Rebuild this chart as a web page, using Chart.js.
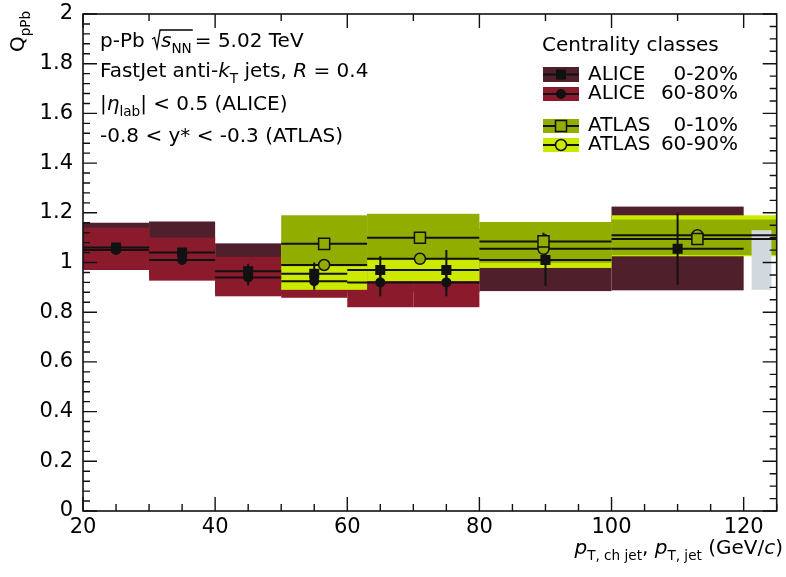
<!DOCTYPE html>
<html>
<head>
<meta charset="utf-8">
<script src="https://cdn.jsdelivr.net/npm/chart.js@4.4.1/dist/chart.umd.min.js"></script>
<style>
  html, body { margin: 0; padding: 0; background: #fff; }
  #wrap { width: 786px; height: 577px; }
</style>
</head>
<body>
<div id="wrap"><canvas id="qpbChart" width="786" height="577"></canvas></div>
<script>
// ALICE, charged jets (bin edges and centres in GeV/c)
const aliceEdges = [20, 30, 40, 50, 60, 70, 80, 100, 120];
const aliceCentres = [25, 35, 45, 55, 65, 75, 90, 110];
const alice020 = [1.06, 1.04, 0.965, 0.955, 0.97, 0.97, 1.01, 1.055];
const alice020Stat = [0.01, 0.015, 0.03, 0.045, 0.055, 0.08, 0.105, 0.145];
const alice020SysLo = [0.97, 0.94, 0.87, 0.87, 0.88, 0.88, 0.885, 0.888];
const alice020SysHi = [1.16, 1.165, 1.077, 1.05, 1.07, 1.07, 1.135, 1.225];
const alice6080 = [1.05, 1.01, 0.94, 0.925, 0.92, 0.92];
const alice6080Stat = [0.01, 0.02, 0.033, 0.035, 0.056, 0.056];
const alice6080SysLo = [0.97, 0.927, 0.864, 0.858, 0.82, 0.82];
const alice6080SysHi = [1.14, 1.10, 1.023, 1.0, 1.02, 1.02];

// ATLAS, full jets
const atlasEdges = [50, 63, 80, 100, 125];
const atlasCentres = [56.5, 71, 89.7, 113];
const atlas010 = [1.075, 1.10, 1.085, 1.095];
const atlas010Stat = [0.01, 0.01, 0.035, 0.015];
const atlas010SysLo = [0.985, 1.01, 0.999, 1.03];
const atlas010SysHi = [1.19, 1.196, 1.163, 1.173];
const atlas6090 = [0.99, 1.015, 1.055, 1.11];
const atlas6090Stat = [0.01, 0.01, 0.02, 0.015];
const atlas6090SysLo = [0.89, 0.925, 0.978, 1.025];
const atlas6090SysHi = [1.09, 1.11, 1.13, 1.19];

// normalisation uncertainty box
const normRange = [121.2, 124.2];
const normLo = 0.89;
const normHi = 1.13;

const xTicks = [20, 40, 60, 80, 100, 120];

const COL = {
  alice020: '#4f1f2c',
  alice6080: '#8c1a2d',
  atlas010: '#90ad00',
  atlas6090: '#cbea00',
  norm: '#d2d9de',
  ink: '#111111'
};
const FONT = '"DejaVu Sans", "Liberation Sans", sans-serif';

function segments(edges, vals) {
  const out = [];
  vals.forEach((v, i) => {
    out.push({ x: edges[i], y: v }, { x: edges[i + 1], y: v }, { x: edges[i + 1], y: null });
  });
  return out;
}

function errorBars(xs, vals, errs) {
  const out = [];
  vals.forEach((v, i) => {
    out.push({ x: xs[i], y: v - errs[i] }, { x: xs[i], y: v + errs[i] }, { x: xs[i], y: null });
  });
  return out;
}

function points(xs, vals) {
  return vals.map((v, i) => ({ x: xs[i], y: v }));
}

const lineStyle = (data) => ({
  type: 'line', data, borderColor: COL.ink, borderWidth: 2, pointRadius: 0,
  spanGaps: false, fill: false, order: 3
});
const barStyle = (data) => ({
  type: 'line', data, borderColor: COL.ink, borderWidth: 2, pointRadius: 0,
  spanGaps: false, fill: false, order: 2
});

// systematic boxes, drawn behind the datasets
const boxPlugin = {
  id: 'sysBoxes',
  beforeDatasetsDraw(chart) {
    const { ctx, chartArea: a, scales: { x, y } } = chart;
    ctx.save();
    ctx.beginPath();
    ctx.rect(a.left, a.top, a.right - a.left, a.bottom - a.top);
    ctx.clip();
    const fill = (edges, lo, hi, color) => {
      ctx.fillStyle = color;
      lo.forEach((l, i) => {
        const x0 = x.getPixelForValue(edges[i]);
        const x1 = x.getPixelForValue(edges[i + 1]);
        const y0 = y.getPixelForValue(hi[i]);
        const y1 = y.getPixelForValue(l);
        ctx.fillRect(x0, y0, x1 - x0, y1 - y0);
      });
    };
    fill(aliceEdges, alice020SysLo, alice020SysHi, COL.alice020);
    fill(aliceEdges, alice6080SysLo, alice6080SysHi, COL.alice6080);
    fill(atlasEdges, atlas6090SysLo, atlas6090SysHi, COL.atlas6090);
    fill(atlasEdges, atlas010SysLo, atlas010SysHi, COL.atlas010);
    fill(normRange, [normLo], [normHi], COL.norm);
    ctx.restore();
  }
};

function richText(ctx, x, y, parts, size) {
  let cx = x;
  parts.forEach(([t, f = '']) => {
    const sub = f.includes('s');
    const fs = sub ? size * 0.68 : size;
    ctx.font = (f.includes('i') ? 'italic ' : '') + fs + 'px ' + FONT;
    ctx.fillText(t, cx, sub ? y + size * 0.32 : y);
    cx += ctx.measureText(t).width;
  });
  return cx;
}

function textWidth(ctx, parts, size) {
  let w = 0;
  parts.forEach(([t, f = '']) => {
    const fs = f.includes('s') ? size * 0.68 : size;
    ctx.font = (f.includes('i') ? 'italic ' : '') + fs + 'px ' + FONT;
    w += ctx.measureText(t).width;
  });
  return w;
}

// frame with inward ticks, labels and legend
const framePlugin = {
  id: 'frameAndText',
  afterDatasetsDraw(chart) {
    const { ctx, chartArea: a, scales: { x, y } } = chart;
    ctx.save();
    ctx.strokeStyle = COL.ink;
    ctx.lineWidth = 1.6;
    ctx.strokeRect(a.left, a.top, a.right - a.left, a.bottom - a.top);
    ctx.lineWidth = 1.4;
    ctx.beginPath();
    // bottom axis: major 20, minor 5
    for (let v = 20; v <= 125; v += 5) {
      const px = x.getPixelForValue(v);
      const len = v % 20 === 0 ? 14 : 7;
      ctx.moveTo(px, a.bottom); ctx.lineTo(px, a.bottom - len);
    }
    // top axis: major 20, minor 10
    for (let v = 20; v <= 125; v += 10) {
      const px = x.getPixelForValue(v);
      const len = v % 20 === 0 ? 14 : 7;
      ctx.moveTo(px, a.top); ctx.lineTo(px, a.top + len);
    }
    // left axis: major 0.2, minor 0.04
    for (let k = 0; k <= 50; k++) {
      const py = y.getPixelForValue(k * 0.04);
      const len = k % 5 === 0 ? 14 : 7;
      ctx.moveTo(a.left, py); ctx.lineTo(a.left + len, py);
    }
    // right axis: major 0.2, minor 0.05
    for (let k = 0; k <= 40; k++) {
      const py = y.getPixelForValue(k * 0.05);
      const len = k % 4 === 0 ? 14 : 7;
      ctx.moveTo(a.right, py); ctx.lineTo(a.right - len, py);
    }
    ctx.stroke();
    ctx.restore();
  },
  afterDraw(chart) {
    const { ctx } = chart;
    ctx.save();
    ctx.fillStyle = '#000';
    ctx.textBaseline = 'alphabetic';
    ctx.textAlign = 'left';
    const fs = 20;

    // annotation block
    const cx = richText(ctx, 100, 47, [['p-Pb ']], fs);
    const rx = cx + 1;
    const sEnd = richText(ctx, rx + 9, 47, [['s', 'i'], ['NN', 's']], fs) + 1;
    ctx.strokeStyle = '#000';
    ctx.lineWidth = 1.3;
    ctx.beginPath();
    ctx.moveTo(rx, 39); ctx.lineTo(rx + 2.5, 37.5); ctx.lineTo(rx + 5, 48);
    ctx.lineTo(rx + 8, 30); ctx.lineTo(sEnd, 30);
    ctx.stroke();
    richText(ctx, sEnd + 2, 47, [['= 5.02 TeV']], fs);
    richText(ctx, 100, 77, [['FastJet anti-'], ['k', 'i'], ['T', 's'], [' jets, '], ['R', 'i'], [' = 0.4']], fs);
    richText(ctx, 100, 110, [['|'], ['\u03b7', 'i'], ['lab', 's'], ['| < 0.5 (ALICE)']], fs);
    richText(ctx, 100, 142, [['-0.8 < y* < -0.3 (ATLAS)']], fs);

    // legend
    richText(ctx, 542, 51, [['Centrality classes']], fs);
    const entries = [
      { name: 'ALICE', cls: '0-20%', color: COL.alice020, top: 67, bottom: 82, marker: 'square', open: false },
      { name: 'ALICE', cls: '60-80%', color: COL.alice6080, top: 87, bottom: 101, marker: 'circle', open: false },
      { name: 'ATLAS', cls: '0-10%', color: COL.atlas010, top: 119, bottom: 133, marker: 'square', open: true },
      { name: 'ATLAS', cls: '60-90%', color: COL.atlas6090, top: 138, bottom: 152, marker: 'circle', open: true }
    ];
    entries.forEach((e) => {
      const mid = (e.top + e.bottom) / 2;
      ctx.fillStyle = e.color;
      ctx.fillRect(543, e.top, 36, e.bottom - e.top);
      ctx.strokeStyle = COL.ink;
      ctx.lineWidth = 2;
      ctx.beginPath(); ctx.moveTo(543, mid); ctx.lineTo(579, mid); ctx.stroke();
      ctx.beginPath();
      if (e.marker === 'square') {
        const h = e.open ? 5.5 : 5;
        ctx.rect(561 - h, mid - h, 2 * h, 2 * h);
      } else {
        ctx.arc(561, mid, e.open ? 5.5 : 5, 0, Math.PI * 2);
      }
      if (e.open) {
        ctx.fillStyle = e.color; ctx.fill();
        ctx.lineWidth = 1.5; ctx.stroke();
      } else {
        ctx.fillStyle = COL.ink; ctx.fill();
      }
      ctx.fillStyle = '#000';
      ctx.font = fs + 'px ' + FONT;
      ctx.textAlign = 'left';
      ctx.fillText(e.name, 588, e.bottom - 2);
      ctx.textAlign = 'right';
      ctx.fillText(e.cls, 738, e.bottom - 2);
      ctx.textAlign = 'left';
    });

    // x-axis title, right aligned to the frame
    const xParts = [['p', 'i'], ['T, ch jet', 's'], [', '], ['p', 'i'], ['T, jet', 's'], [' (GeV/'], ['c', 'i'], [')']];
    const w = textWidth(ctx, xParts, fs);
    richText(ctx, 783 - w, 554, xParts, fs);

    // y-axis title
    ctx.translate(24, 52);
    ctx.rotate(-Math.PI / 2);
    richText(ctx, 0, 0, [['Q'], ['pPb', 's']], fs);
    ctx.restore();
  }
};

const ctx = document.getElementById('qpbChart');

new Chart(ctx, {
  type: 'scatter',
  data: {
    datasets: [
      // markers
      { data: points(atlasCentres, atlas010), pointStyle: 'rect', pointRadius: 7.8, borderColor: COL.ink,
        borderWidth: 1.5, backgroundColor: COL.atlas010, order: 0 },
      { data: points(atlasCentres, atlas6090), pointStyle: 'circle', pointRadius: 5.5, borderColor: COL.ink,
        borderWidth: 1.5, backgroundColor: COL.atlas010, order: 0 },
      { data: points(aliceCentres, alice020), pointStyle: 'rect', pointRadius: 7.1, borderWidth: 0,
        backgroundColor: COL.ink, order: 0 },
      { data: points(aliceCentres, alice6080), pointStyle: 'circle', pointRadius: 5, borderWidth: 0,
        backgroundColor: COL.ink, order: 1 },
      // statistical error bars
      barStyle(errorBars(aliceCentres, alice020, alice020Stat)),
      barStyle(errorBars(aliceCentres, alice6080, alice6080Stat)),
      barStyle(errorBars(atlasCentres, atlas010, atlas010Stat)),
      barStyle(errorBars(atlasCentres, atlas6090, atlas6090Stat)),
      // central values across each bin
      lineStyle(segments(aliceEdges, alice020)),
      lineStyle(segments(aliceEdges, alice6080)),
      lineStyle(segments(atlasEdges, atlas010)),
      lineStyle(segments(atlasEdges, atlas6090))
    ]
  },
  options: {
    responsive: false,
    animation: false,
    devicePixelRatio: 1,
    layout: { padding: { top: 14, right: 4, left: 0, bottom: 0 } },
    plugins: {
      legend: { display: false },
      tooltip: { enabled: false }
    },
    scales: {
      x: {
        type: 'linear',
        min: 20,
        max: 125,
        grid: { display: false, drawTicks: false },
        border: { display: false },
        afterBuildTicks(scale) {
          scale.ticks = xTicks.map((v) => ({ value: v }));
        },
        ticks: {
          maxRotation: 0,
          autoSkip: false,
          padding: 4,
          color: '#000',
          font: { family: FONT, size: 21 }
        },
        afterFit(scale) {
          scale.height = 66;
          scale.paddingLeft = 0;
          scale.paddingRight = 0;
        }
      },
      y: {
        min: 0,
        max: 2,
        grid: { display: false, drawTicks: false },
        border: { display: false },
        ticks: {
          stepSize: 0.2,
          padding: 10,
          color: '#000',
          font: { family: FONT, size: 21 },
          callback(value) {
            return String(Number(value.toFixed(1)));
          }
        },
        afterFit(scale) {
          scale.width = 83;
          scale.paddingTop = 0;
          scale.paddingBottom = 0;
        }
      }
    }
  },
  plugins: [boxPlugin, framePlugin]
});
</script>
</body>
</html>
